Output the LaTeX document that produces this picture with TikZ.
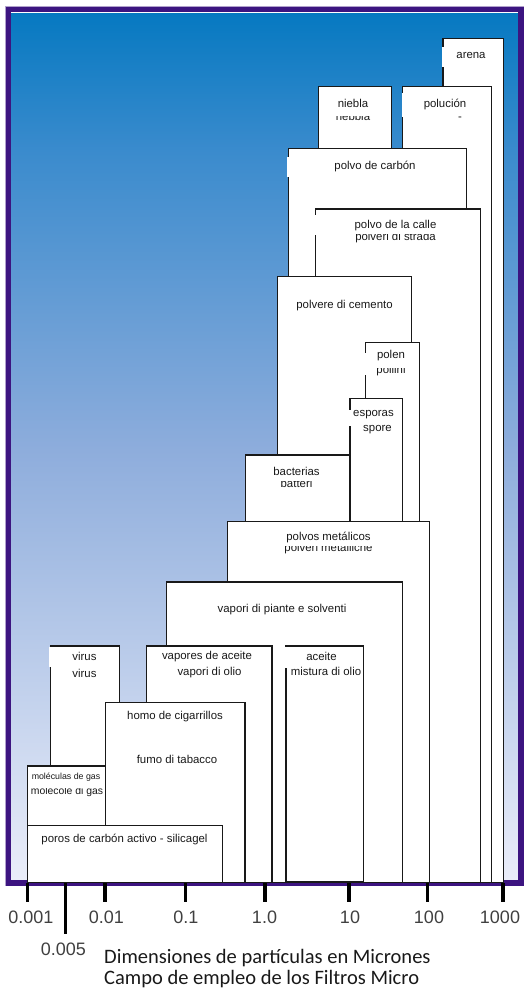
\documentclass[tikz,border=0pt]{standalone}
\usepackage{fontspec}
\setmainfont{Liberation Sans}
\newfontfamily\capfont{Carlito}
\definecolor{framec}{RGB}{60,20,128}
\definecolor{bgA}{RGB}{6,121,193}
\definecolor{bgB}{RGB}{58,139,205}
\definecolor{bgC}{RGB}{142,173,220}
\definecolor{bgD}{RGB}{234,237,249}
\begin{document}
\begin{tikzpicture}[x=1pt,y=-1pt,
  pbox/.style={draw=black!90, fill=white, line width=1.1pt},
  gap/.style={fill=white, draw=none},
  lbl/.style={font=\fontsize{11.4}{12}\selectfont, text=black!90, inner sep=0pt, anchor=base},
  axl/.style={font=\fontsize{18}{20}\selectfont, text=black!75, inner sep=0pt, anchor=base},
  axtick/.style={line width=3.3pt, black},
  caplbl/.style={font=\capfont\fontsize{20.5}{22}\selectfont, text=black!90, inner sep=0pt, anchor=base west}]
\useasboundingbox (0,0) rectangle (524,988);
% background
\shade[top color=bgA, bottom color=bgB] (11,13) rectangle (519,150.5);
\shade[top color=bgB, bottom color=bgC] (11,150) rectangle (519,450.5);
\shade[top color=bgC, bottom color=bgD] (11,450) rectangle (519,880);
\draw[framec!40, line width=0.8pt] (5.2,6) rectangle (523.4,885.8);
\draw[framec, line width=5.5pt] (8.25,9.5) rectangle (520.75,882.75);
% boxes
\draw[pbox] (443,38.3) rectangle (503.5,882.7);
\draw[pbox] (318.7,86.7) rectangle (391.7,882.7);
\draw[pbox] (402.7,86.7) rectangle (491.7,882.7);
\draw[pbox] (288.3,148.3) rectangle (466.5,882.7);
\draw[pbox] (315.7,209) rectangle (480.5,882.7);
\draw[pbox] (277.7,276.7) rectangle (411.7,882.7);
\draw[pbox] (365.7,342.3) rectangle (419.3,882.7);
\draw[pbox] (350,398.3) rectangle (402.7,882.7);
\draw[pbox] (245.7,455) rectangle (350,882.7);
\draw[pbox] (227.3,521.7) rectangle (429.3,882.7);
\draw[pbox] (166.3,582) rectangle (402.3,882.7);
\draw[pbox] (286,646) rectangle (363.3,881.6);
\draw[pbox] (146.7,646) rectangle (272,882.7);
\draw[pbox] (50.7,646) rectangle (119.3,882.7);
\draw[pbox] (105.3,702.3) rectangle (245,882.7);
\draw[pbox] (27.3,766) rectangle (105.3,882.7);
\draw[pbox] (27.3,825.5) rectangle (222.7,882.7);
% white notches in left borders
\fill[gap] (441.5,46.5) rectangle (444.5,67);
\fill[gap] (401.5,93) rectangle (404,117);
\fill[gap] (286.5,157) rectangle (289.5,177);
\fill[gap] (314.5,215) rectangle (317,235);
\fill[gap] (364.5,353) rectangle (367,375);
\fill[gap] (349,410) rectangle (351.2,426);
\fill[gap] (49.3,646.6) rectangle (52,667);
\fill[gap] (285,646.6) rectangle (287.2,668);
% axis ticks
\draw[axtick] (27.7,883) -- (27.7,902);
\draw[axtick] (65.7,883) -- (65.7,934);
\draw[axtick] (105,883) -- (105,902);
\draw[axtick] (185.3,883) -- (185.3,902);
\draw[axtick] (265,883) -- (265,902);
\draw[axtick] (349,883) -- (349,902);
\draw[axtick] (427.7,883) -- (427.7,902);
\draw[axtick] (503,883) -- (503,902);
% labels
\node[lbl] (arena) at (471,58.5) {arena};
\node[lbl] (niebla) at (353,107) {niebla};
\begin{scope}\clip (325,116.5) rectangle (385,130);
\node[lbl] (nebbia) at (353,120.5) {nebbia};\end{scope}
\node[lbl] (polucion) at (445,107) {polución};
\node[lbl] (dash) at (460,120) {-};
\node[lbl] (carbon) at (375,169) {polvo de carbón};
\node[lbl] (calle) at (395.5,228.5) {polvo de la calle};
\begin{scope}\clip (340,234.5) rectangle (450,250);
\node[lbl] (strada) at (395.5,240.5) {polveri di strada};\end{scope}
\node[lbl] (cemento) at (344.5,308) {polvere di cemento};
\node[lbl] (polen) at (391,358) {polen};
\begin{scope}\clip (370,368) rectangle (415,380);
\node[lbl] (pollini) at (391,373) {pollini};\end{scope}
\node[lbl] (esporas) at (373.5,416.5) {esporas};
\node[lbl] (spore) at (377.5,431.5) {spore};
\node[lbl] (bacterias) at (296.5,475) {bacterias};
\begin{scope}\clip (260,481.5) rectangle (340,495);
\node[lbl] (batteri) at (296.5,487) {batteri};\end{scope}
\node[lbl] (metalicos) at (328.5,540) {polvos metálicos};
\begin{scope}\clip (270,546.5) rectangle (390,560);
\node[lbl] (metalliche) at (328.5,551.5) {polveri metalliche};\end{scope}
\node[lbl] (piante) at (282,612.5) {vapori di piante e solventi};
\node[lbl] (virusA) at (84.5,660) {virus};
\node[lbl] (virusB) at (84.5,677) {virus};
\node[lbl] (vapores) at (207,659) {vapores de aceite};
\node[lbl] (olio) at (209.5,675.5) {vapori di olio};
\node[lbl] (aceite) at (321.5,660) {aceite};
\node[lbl] (mistura) at (326,675.5) {mistura di olio};
\node[lbl] (homo) at (175,719) {homo de cigarrillos};
\node[lbl] (fumo) at (177,763) {fumo di tabacco};
\node[lbl, font=\fontsize{8.8}{10}\selectfont] (moleculas) at (66,779.5) {moléculas de gas};
\begin{scope}\clip (28,788) rectangle (105,800);
\node[lbl, font=\fontsize{10.4}{11}\selectfont] (molecole) at (67,794.5) {molecole di gas};\end{scope}
\node[lbl] (poros) at (124.5,842) {poros de carbón activo - silicagel};
% axis labels
\node[axl] (t0) at (30.8,923) {0.001};
\node[axl] (t1) at (106.3,923) {0.01};
\node[axl] (t2) at (185.8,923) {0.1};
\node[axl] (t3) at (264.5,923) {1.0};
\node[axl] (t4) at (350,923) {10};
\node[axl] (t5) at (429,923) {100};
\node[axl] (t6) at (500,923) {1000};
\node[axl] (t05) at (63.3,955) {0.005};
\node[caplbl] (capA) at (104,963) {Dimensiones de partículas en Micrones};
\node[caplbl] (capB) at (104,984.5) {Campo de empleo de los Filtros Micro};
\end{tikzpicture}
\end{document}
